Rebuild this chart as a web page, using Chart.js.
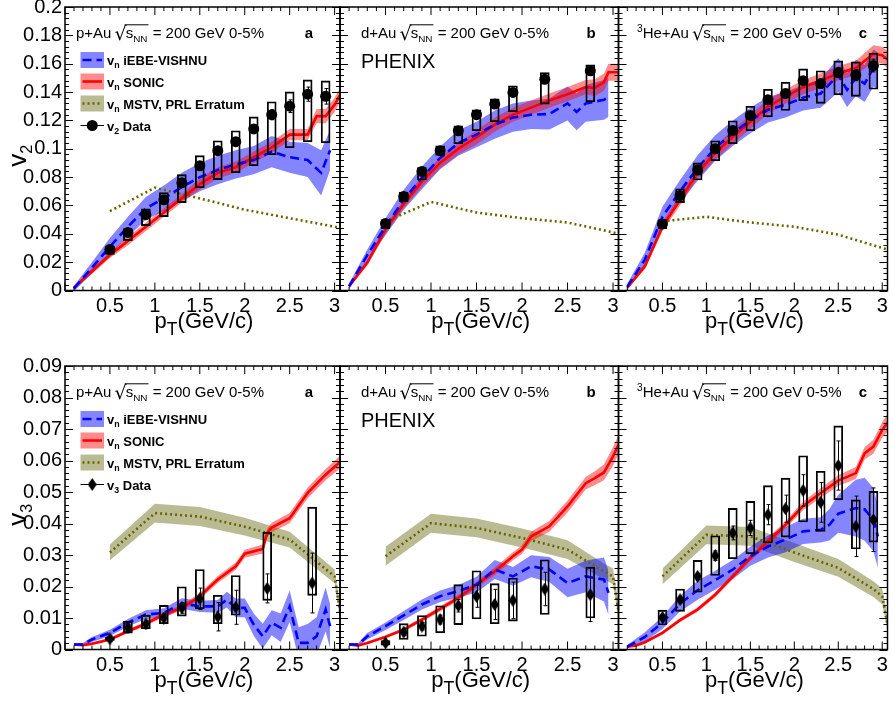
<!DOCTYPE html>
<html>
<head>
<meta charset="utf-8">
<title>v2 / v3 in small systems</title>
<script src="https://cdn.jsdelivr.net/npm/chart.js@4.4.1/dist/chart.umd.min.js"></script>
<style>
  body { margin: 0; background: #ffffff; }
  #page { position: relative; width: 893px; height: 705px; overflow: hidden; background: #fff; }
  #page canvas { position: absolute; left: 0; top: 0; }
</style>
</head>
<body>
<div id="page">
  <canvas id="pAu2" width="893" height="705"></canvas>
  <canvas id="dAu2" width="893" height="705"></canvas>
  <canvas id="he2" width="893" height="705"></canvas>
  <canvas id="pAu3" width="893" height="705"></canvas>
  <canvas id="dAu3" width="893" height="705"></canvas>
  <canvas id="he3" width="893" height="705"></canvas>
</div>
<script>
var FONT = '"Liberation Sans", Arial, Helvetica, sans-serif';

// tick labels
var xTicks = [0.5, 1, 1.5, 2, 2.5, 3];
var v2Ticks = [0, 0.02, 0.04, 0.06, 0.08, 0.1, 0.12, 0.14, 0.16, 0.18, 0.2];
var v3Ticks = [0, 0.01, 0.02, 0.03, 0.04, 0.05, 0.06, 0.07, 0.08, 0.09];

// measured pT bins
var ptFull = [0.5, 0.7, 0.9, 1.1, 1.3, 1.5, 1.7, 1.9, 2.1, 2.3, 2.5, 2.7, 2.9];
var ptWide = [0.5, 0.7, 0.9, 1.1, 1.3, 1.5, 1.7, 1.9, 2.25, 2.75];

// v2 data
var pAuV2 = [0.029, 0.041, 0.0535, 0.064, 0.076, 0.088, 0.0986, 0.105, 0.114, 0.124, 0.130, 0.1385, 0.137];
var pAuV2Stat = [0.001, 0.001, 0.0012, 0.0014, 0.0016, 0.0018, 0.002, 0.0025, 0.003, 0.0035, 0.0045, 0.005, 0.0055];
var pAuV2SysLo = [0.0255, 0.0352, 0.0458, 0.0521, 0.062, 0.0725, 0.0782, 0.0831, 0.088, 0.0958, 0.1007, 0.1049, 0.1042];
var pAuV2SysHi = [0.031, 0.0437, 0.0577, 0.069, 0.0817, 0.0951, 0.1056, 0.1127, 0.1225, 0.1331, 0.1401, 0.1486, 0.1479];

var dAuV2 = [0.0472, 0.0664, 0.084, 0.0986, 0.1127, 0.124, 0.1315, 0.1397, 0.149, 0.155];
var dAuV2Stat = [0.0008, 0.001, 0.0012, 0.0014, 0.0016, 0.0018, 0.002, 0.0024, 0.0025, 0.003];
var dAuV2SysLo = [0.0437, 0.0625, 0.078, 0.0953, 0.1035, 0.1127, 0.119, 0.1261, 0.1315, 0.1331];
var dAuV2SysHi = [0.05, 0.0695, 0.0868, 0.1021, 0.1162, 0.1275, 0.1352, 0.1444, 0.1537, 0.1592];

var heV2 = [0.047, 0.067, 0.085, 0.100, 0.1129, 0.1235, 0.1345, 0.139, 0.148, 0.146, 0.1537, 0.152, 0.1587];
var heV2Stat = [0.0008, 0.001, 0.0012, 0.0014, 0.0016, 0.0018, 0.002, 0.0024, 0.0026, 0.003, 0.0035, 0.004, 0.0045];
var heV2SysLo = [0.0434, 0.062, 0.078, 0.0916, 0.1035, 0.1127, 0.1225, 0.127, 0.134, 0.132, 0.138, 0.137, 0.142];
var heV2SysHi = [0.050, 0.0718, 0.090, 0.1056, 0.1197, 0.130, 0.142, 0.147, 0.1563, 0.155, 0.162, 0.1613, 0.1675];

// v3 data
var pAuV3 = [0.0034, 0.0069, 0.0081, 0.0100, 0.0132, 0.0161, 0.0104, 0.0134, 0.0194, 0.0211];
var pAuV3Stat = [0.0008, 0.001, 0.0012, 0.0013, 0.0017, 0.0034, 0.0045, 0.0054, 0.0046, 0.0095];
var pAuV3SysLo = [0.0029, 0.0052, 0.0066, 0.0082, 0.0106, 0.0129, 0.0082, 0.0109, 0.0156, 0.0172];
var pAuV3SysHi = [0.0039, 0.0090, 0.0109, 0.0140, 0.0199, 0.0254, 0.0172, 0.0235, 0.0372, 0.0452];

var dAuV3 = [0.0021, 0.0055, 0.0074, 0.0095, 0.0139, 0.0169, 0.0143, 0.0156, 0.0192, 0.0174];
var dAuV3Stat = [0.0005, 0.001, 0.0012, 0.0014, 0.002, 0.0035, 0.0048, 0.0058, 0.0053, 0.0085];
var dAuV3SysLo = [0.0014, 0.0032, 0.0042, 0.0053, 0.0079, 0.0097, 0.0082, 0.009, 0.0111, 0.010];
var dAuV3SysHi = [0.0028, 0.0082, 0.0108, 0.0139, 0.0206, 0.025, 0.0209, 0.0227, 0.0285, 0.0262];

var heV3 = [0.0102, 0.0158, 0.0232, 0.0298, 0.037, 0.0386, 0.0428, 0.0447, 0.0505, 0.0467, 0.0584, 0.0391, 0.0412];
var heV3Stat = [0.0005, 0.0008, 0.001, 0.0015, 0.0022, 0.0024, 0.0032, 0.0043, 0.005, 0.0063, 0.0078, 0.0096, 0.0101];
var heV3SysLo = [0.0078, 0.0121, 0.0182, 0.0235, 0.0288, 0.0304, 0.0338, 0.0357, 0.0405, 0.0375, 0.0475, 0.0319, 0.0341];
var heV3SysHi = [0.0125, 0.0192, 0.0283, 0.0361, 0.0448, 0.047, 0.052, 0.0544, 0.0615, 0.0566, 0.071, 0.0475, 0.0502];

// theory: p+Au v2
var iebePtPAu2 = [0.1, 0.3, 0.5, 0.7, 0.9, 1.1, 1.3, 1.5, 1.7, 1.9, 2.1, 2.3, 2.5, 2.7, 2.85, 2.95];
var iebePAu2 = [0.0014, 0.016, 0.031, 0.045, 0.058, 0.065, 0.073, 0.080, 0.085, 0.089, 0.092, 0.098, 0.094, 0.092, 0.083, 0.099];
var iebeErrPAu2 = [0.002, 0.004, 0.006, 0.007, 0.008, 0.009, 0.010, 0.010, 0.010, 0.010, 0.010, 0.011, 0.011, 0.012, 0.016, 0.014];
var sonicPtPAu2 = [0.1, 0.3, 0.5, 0.7, 0.9, 1.1, 1.3, 1.5, 1.7, 1.9, 2.1, 2.3, 2.5, 2.7, 2.8, 2.9, 3.0, 3.06];
var sonicPAu2 = [0.002, 0.0136, 0.025, 0.035, 0.045, 0.055, 0.065, 0.075, 0.083, 0.087, 0.094, 0.101, 0.110, 0.110, 0.123, 0.123, 0.131, 0.138];
var sonicErrPAu2 = [0.001, 0.002, 0.002, 0.003, 0.003, 0.003, 0.003, 0.004, 0.004, 0.004, 0.004, 0.004, 0.004, 0.004, 0.005, 0.005, 0.005, 0.005];
var mstvPtV2 = [0.5, 1.0, 1.5, 2.0, 2.5, 3.0, 3.06];
var mstvPAu2 = [0.056, 0.0725, 0.065, 0.057, 0.051, 0.045, 0.044];

// theory: d+Au v2
var iebePtDAu2 = [0.1, 0.3, 0.5, 0.7, 0.9, 1.1, 1.3, 1.5, 1.7, 1.9, 2.1, 2.3, 2.5, 2.6, 2.7, 2.9, 2.95];
var iebeDAu2 = [0.003, 0.025, 0.045, 0.064, 0.0795, 0.0935, 0.104, 0.110, 0.117, 0.122, 0.124, 0.1245, 0.132, 0.126, 0.132, 0.1345, 0.1365];
var iebeErrDAu2 = [0.002, 0.004, 0.006, 0.007, 0.008, 0.008, 0.009, 0.009, 0.010, 0.010, 0.010, 0.011, 0.012, 0.013, 0.013, 0.014, 0.014];
var sonicPtDAu2 = [0.1, 0.3, 0.5, 0.7, 0.9, 1.1, 1.3, 1.5, 1.7, 1.9, 2.1, 2.3, 2.5, 2.7, 2.8, 2.9, 2.95, 3.06];
var sonicDAu2 = [0.003, 0.0197, 0.043, 0.061, 0.077, 0.090, 0.100, 0.108, 0.117, 0.124, 0.129, 0.134, 0.1385, 0.1435, 0.143, 0.147, 0.154, 0.154];
var sonicErrDAu2 = [0.001, 0.002, 0.003, 0.003, 0.004, 0.004, 0.004, 0.005, 0.005, 0.005, 0.005, 0.005, 0.005, 0.005, 0.006, 0.006, 0.006, 0.006];
var mstvDAu2 = [0.0486, 0.0625, 0.055, 0.051, 0.048, 0.041, 0.040];

// theory: 3He+Au v2
var iebePtHe2 = [0.1, 0.3, 0.5, 0.7, 0.9, 1.1, 1.3, 1.5, 1.7, 1.9, 2.1, 2.3, 2.5, 2.6, 2.7, 2.8, 2.9, 2.95];
var iebeHe2 = [0.0027, 0.0218, 0.052, 0.070, 0.0865, 0.1005, 0.111, 0.120, 0.1275, 0.131, 0.136, 0.139, 0.152, 0.1415, 0.150, 0.146, 0.157, 0.155];
var iebeErrHe2 = [0.002, 0.005, 0.007, 0.008, 0.009, 0.009, 0.009, 0.009, 0.009, 0.009, 0.009, 0.010, 0.012, 0.012, 0.013, 0.013, 0.013, 0.013];
var sonicPtHe2 = [0.1, 0.3, 0.5, 0.7, 0.9, 1.1, 1.3, 1.5, 1.7, 1.9, 2.1, 2.3, 2.5, 2.7, 2.9, 3.0, 3.06];
var sonicHe2 = [0.002, 0.017, 0.045, 0.064, 0.083, 0.097, 0.1085, 0.119, 0.1297, 0.1368, 0.1435, 0.148, 0.1533, 0.157, 0.167, 0.166, 0.163];
var sonicErrHe2 = [0.001, 0.002, 0.003, 0.004, 0.004, 0.005, 0.005, 0.005, 0.005, 0.005, 0.005, 0.005, 0.005, 0.005, 0.006, 0.006, 0.006];
var mstvHe2 = [0.0488, 0.052, 0.048, 0.045, 0.0394, 0.030, 0.029];

// theory: p+Au v3
var iebePtPAu3 = [0.1, 0.2, 0.3, 0.5, 0.7, 0.9, 1.1, 1.3, 1.5, 1.7, 1.8, 1.9, 2.0, 2.1, 2.2, 2.3, 2.4, 2.5, 2.6, 2.7, 2.8, 2.9, 2.95];
var iebePAu3 = [0.0016, 0.0016, 0.0032, 0.0053, 0.0085, 0.0111, 0.0116, 0.0146, 0.0137, 0.0137, 0.0158, 0.0132, 0.0132, 0.0079, 0.0042, 0.0085, 0.0069, 0.0137, 0.0021, 0.0021, 0.0042, 0.0127, 0.0074];
var iebeErrPAu3 = [0.0005, 0.0005, 0.0008, 0.001, 0.0012, 0.0014, 0.0015, 0.0017, 0.0018, 0.002, 0.0025, 0.003, 0.003, 0.0035, 0.004, 0.004, 0.0045, 0.005, 0.005, 0.006, 0.006, 0.007, 0.007];
var sonicPtPAu3 = [0.1, 0.2, 0.3, 0.5, 0.7, 0.9, 1.1, 1.3, 1.5, 1.7, 1.9, 2.0, 2.2, 2.25, 2.3, 2.5, 2.7, 2.9, 3.06];
var sonicPAu3 = [0.0016, 0.0014, 0.0018, 0.0032, 0.0058, 0.0082, 0.0111, 0.0132, 0.0169, 0.0222, 0.0264, 0.0304, 0.0319, 0.037, 0.0387, 0.0417, 0.0497, 0.0555, 0.0595];
var sonicErrPAu3 = [0.0004, 0.0004, 0.0004, 0.0005, 0.0006, 0.0007, 0.0008, 0.0009, 0.001, 0.0011, 0.0012, 0.0013, 0.0014, 0.0014, 0.0015, 0.0016, 0.0017, 0.0018, 0.002];
var mstvPtPAu3 = [0.5, 1.0, 1.5, 2.0, 2.5, 3.0, 3.06];
var mstvPAu3 = [0.0308, 0.0433, 0.0422, 0.039, 0.0349, 0.0232, 0.012];
var mstvErrPAu3 = [0.0025, 0.003, 0.003, 0.0028, 0.0025, 0.0022, 0.002];

// theory: d+Au v3
var iebePtDAu3 = [0.1, 0.2, 0.3, 0.5, 0.7, 0.9, 1.1, 1.3, 1.5, 1.7, 1.9, 2.1, 2.3, 2.5, 2.7, 2.8, 2.9, 2.95];
var iebeDAu3 = [0.0016, 0.0016, 0.0042, 0.0074, 0.0108, 0.0143, 0.0169, 0.0185, 0.0206, 0.0254, 0.0232, 0.0264, 0.0254, 0.0211, 0.0232, 0.0227, 0.0222, 0.018];
var iebeErrDAu3 = [0.0005, 0.0005, 0.001, 0.0012, 0.0014, 0.0016, 0.0018, 0.002, 0.0025, 0.003, 0.003, 0.0035, 0.004, 0.0045, 0.005, 0.006, 0.007, 0.007];
var sonicPtDAu3 = [0.1, 0.2, 0.3, 0.5, 0.7, 0.9, 1.1, 1.3, 1.5, 1.7, 1.9, 2.0, 2.1, 2.2, 2.3, 2.5, 2.7, 2.8, 2.9, 3.0, 3.06];
var sonicDAu3 = [0.0016, 0.0013, 0.0021, 0.004, 0.0063, 0.0095, 0.0129, 0.0164, 0.0206, 0.0248, 0.0296, 0.0317, 0.0359, 0.0375, 0.0391, 0.0454, 0.0528, 0.0544, 0.0562, 0.0613, 0.065];
var sonicErrDAu3 = [0.0004, 0.0004, 0.0004, 0.0005, 0.0006, 0.0007, 0.0008, 0.0009, 0.001, 0.0012, 0.0013, 0.0014, 0.0015, 0.0016, 0.0017, 0.0019, 0.002, 0.0022, 0.0025, 0.003, 0.003];
var mstvPtV3 = [0.5, 1.0, 1.5, 2.0, 2.5, 2.9, 3.0, 3.06];
var mstvDAu3 = [0.0296, 0.0401, 0.0386, 0.0354, 0.0317, 0.0248, 0.0232, 0.012];
var mstvErrDAu3 = [0.003, 0.003, 0.003, 0.003, 0.003, 0.0025, 0.0025, 0.002];

// theory: 3He+Au v3
var iebePtHe3 = [0.1, 0.3, 0.5, 0.7, 0.9, 1.1, 1.3, 1.5, 1.7, 1.9, 2.1, 2.3, 2.4, 2.5, 2.7, 2.8, 2.9, 2.95];
var iebeHe3 = [0.0009, 0.004, 0.0085, 0.0146, 0.0188, 0.022, 0.0254, 0.0296, 0.0327, 0.0349, 0.0375, 0.038, 0.0396, 0.0431, 0.0449, 0.0445, 0.0412, 0.0359];
var iebeErrHe3 = [0.0005, 0.0015, 0.002, 0.0025, 0.003, 0.003, 0.003, 0.003, 0.0035, 0.004, 0.004, 0.004, 0.005, 0.006, 0.009, 0.01, 0.01, 0.01];
var sonicPtHe3 = [0.1, 0.2, 0.3, 0.5, 0.7, 0.9, 1.1, 1.3, 1.5, 1.7, 1.9, 2.1, 2.3, 2.5, 2.7, 2.8, 2.9, 3.0, 3.06];
var sonicHe3 = [0.0009, 0.0013, 0.0023, 0.0053, 0.0093, 0.0127, 0.0174, 0.0232, 0.0291, 0.0343, 0.0396, 0.0456, 0.0497, 0.0536, 0.056, 0.0623, 0.0644, 0.0697, 0.072];
var sonicErrHe3 = [0.0003, 0.0003, 0.0004, 0.0005, 0.0006, 0.0007, 0.0008, 0.0009, 0.001, 0.0011, 0.0012, 0.0014, 0.0015, 0.0017, 0.0019, 0.002, 0.0022, 0.0025, 0.0027];
var mstvHe3 = [0.0232, 0.0364, 0.0359, 0.0308, 0.0259, 0.0192, 0.0169, 0.008];
var mstvErrHe3 = [0.0025, 0.003, 0.003, 0.003, 0.0028, 0.0025, 0.0025, 0.002];

// styles
var BLUE = '#0000ff', RED = '#ff0000', OLIVE = '#666600';
var BLUE_BAND = 'rgba(0,0,255,0.48)', RED_BAND = 'rgba(255,0,0,0.45)', OLIVE_BAND = 'rgba(120,120,40,0.5)';
var BLUE_DASH = [9, 5], OLIVE_DOT = [2, 3];

function diamondImage() {
    var c = document.createElement('canvas');
    c.width = 9; c.height = 13;
    var g = c.getContext('2d');
    g.fillStyle = '#000';
    g.beginPath();
    g.moveTo(4.5, 0); g.lineTo(9, 6.5); g.lineTo(4.5, 13); g.lineTo(0, 6.5);
    g.closePath(); g.fill();
    return c;
}
var DIAMOND = diamondImage();

var TOP = {top: 7, bottom: 290.5};
var BOT = {top: 366, bottom: 649.5};

var panels = [
    {canvas: 'pAu2', left: 65, right: 340, row: TOP, yMax: 0.2, yTicks: v2Ticks, n: '2', first: true,
     head: [{t: 'p+Au '}], headX: 76, letter: 'a', letterX: 309,
     meas: [ptFull, pAuV2, pAuV2Stat, pAuV2SysLo, pAuV2SysHi],
     iebe: [iebePtPAu2, iebePAu2, iebeErrPAu2], sonic: [sonicPtPAu2, sonicPAu2, sonicErrPAu2], mstv: [mstvPtV2, mstvPAu2, null]},
    {canvas: 'dAu2', left: 340, right: 618.5, row: TOP, yMax: 0.2, yTicks: v2Ticks, n: '2', phenix: true,
     head: [{t: 'd+Au '}], headX: 361, letter: 'b', letterX: 591,
     meas: [ptWide, dAuV2, dAuV2Stat, dAuV2SysLo, dAuV2SysHi],
     iebe: [iebePtDAu2, iebeDAu2, iebeErrDAu2], sonic: [sonicPtDAu2, sonicDAu2, sonicErrDAu2], mstv: [mstvPtV2, mstvDAu2, null]},
    {canvas: 'he2', left: 618.5, right: 892, row: TOP, yMax: 0.2, yTicks: v2Ticks, n: '2',
     head: [{t: '3', sup: true}, {t: 'He+Au '}], headX: 637, letter: 'c', letterX: 863,
     meas: [ptFull, heV2, heV2Stat, heV2SysLo, heV2SysHi],
     iebe: [iebePtHe2, iebeHe2, iebeErrHe2], sonic: [sonicPtHe2, sonicHe2, sonicErrHe2], mstv: [mstvPtV2, mstvHe2, null]},
    {canvas: 'pAu3', left: 65, right: 340, row: BOT, yMax: 0.09, yTicks: v3Ticks, n: '3', first: true,
     head: [{t: 'p+Au '}], headX: 76, letter: 'a', letterX: 309,
     meas: [ptWide, pAuV3, pAuV3Stat, pAuV3SysLo, pAuV3SysHi],
     iebe: [iebePtPAu3, iebePAu3, iebeErrPAu3], sonic: [sonicPtPAu3, sonicPAu3, sonicErrPAu3], mstv: [mstvPtPAu3, mstvPAu3, mstvErrPAu3]},
    {canvas: 'dAu3', left: 340, right: 618.5, row: BOT, yMax: 0.09, yTicks: v3Ticks, n: '3', phenix: true,
     head: [{t: 'd+Au '}], headX: 361, letter: 'b', letterX: 591,
     meas: [ptWide, dAuV3, dAuV3Stat, dAuV3SysLo, dAuV3SysHi],
     iebe: [iebePtDAu3, iebeDAu3, iebeErrDAu3], sonic: [sonicPtDAu3, sonicDAu3, sonicErrDAu3], mstv: [mstvPtV3, mstvDAu3, mstvErrDAu3]},
    {canvas: 'he3', left: 618.5, right: 892, row: BOT, yMax: 0.09, yTicks: v3Ticks, n: '3',
     head: [{t: '3', sup: true}, {t: 'He+Au '}], headX: 637, letter: 'c', letterX: 863,
     meas: [ptFull, heV3, heV3Stat, heV3SysLo, heV3SysHi],
     iebe: [iebePtHe3, iebeHe3, iebeErrHe3], sonic: [sonicPtHe3, sonicHe3, sonicErrHe3], mstv: [mstvPtV3, mstvHe3, mstvErrHe3]}
];

function pts(xs, ys, k, hs) {
    return xs.map(function (x, i) { return {x: x, y: ys[i] + (hs ? k * hs[i] : 0)}; });
}

function curve(c, color, dash, order) {
    return {type: 'line', data: pts(c[0], c[1]), borderColor: color, borderWidth: 2.6, borderDash: dash,
        pointRadius: 0, tension: 0, fill: false, order: order};
}

function addBand(ds, c, color, order) {
    var lowIndex = ds.length;
    ds.push({type: 'line', data: pts(c[0], c[1], -1, c[2]), borderWidth: 0, borderColor: 'rgba(0,0,0,0)',
        pointRadius: 0, tension: 0, fill: false, order: order});
    ds.push({type: 'line', data: pts(c[0], c[1], 1, c[2]), borderWidth: 0, borderColor: 'rgba(0,0,0,0)',
        backgroundColor: color, pointRadius: 0, tension: 0, fill: lowIndex, order: order});
}

function makeDatasets(p) {
    var m = p.meas;
    var ds = [];
    ds.push({type: 'line', data: pts(m[0], m[1]), showLine: false, order: 0,
        pointStyle: p.n === '2' ? 'circle' : DIAMOND, pointRadius: 5.5,
        pointBackgroundColor: '#000', pointBorderColor: '#000', pointBorderWidth: 0});
    ds.push({type: 'bar', order: 1, barThickness: 9, borderWidth: 1.2, borderColor: '#000',
        backgroundColor: 'rgba(0,0,0,0)', borderSkipped: false,
        data: m[0].map(function (x, i) { return {x: x, y: [m[3][i], m[4][i]]}; })});
    ds.push(curve(p.iebe, BLUE, BLUE_DASH, 2));
    ds.push(curve(p.sonic, RED, [], 3));
    ds.push(curve(p.mstv, OLIVE, OLIVE_DOT, 4));
    addBand(ds, p.sonic, RED_BAND, 5);
    addBand(ds, p.iebe, BLUE_BAND, 6);
    if (p.mstv[2]) addBand(ds, p.mstv, OLIVE_BAND, 7);
    return ds;
}

// text with sub / superscripts, returns end x
function rich(ctx, x, y, parts, size, weight) {
    parts.forEach(function (s) {
        var fs = s.sub || s.sup ? size * (s.scale || 0.68) : size;
        ctx.font = (weight || '') + ' ' + fs + 'px ' + FONT;
        var dy = s.sub ? size * (s.drop || 0.25) : (s.sup ? -size * 0.4 : 0);
        ctx.fillText(s.t, x, y + dy);
        x += ctx.measureText(s.t).width;
    });
    return x;
}

function richWidth(ctx, parts, size, weight) {
    var w = 0;
    parts.forEach(function (s) {
        var fs = s.sub || s.sup ? size * (s.scale || 0.68) : size;
        ctx.font = (weight || '') + ' ' + fs + 'px ' + FONT;
        w += ctx.measureText(s.t).width;
    });
    return w;
}

function drawHeader(ctx, p, y) {
    var x = rich(ctx, p.headX, y, p.head, 15);
    ctx.font = '19px "DejaVu Sans", ' + FONT;
    ctx.fillText('\u221A', x - 1, y + 2);
    x += ctx.measureText('\u221A').width - 2;
    var x0 = x;
    x = rich(ctx, x, y, [{t: 's'}, {t: 'NN', sub: true, scale: 0.66, drop: 0.22}], 15);
    ctx.lineWidth = 1;
    ctx.beginPath();
    ctx.moveTo(x0 - 1, y - 13.5); ctx.lineTo(x + 1, y - 13.5);
    ctx.stroke();
    rich(ctx, x + 1, y, [{t: ' = 200 GeV 0-5%'}], 15);
    ctx.font = 'bold 15px ' + FONT;
    ctx.textAlign = 'center';
    ctx.fillText(p.letter, p.letterX, y);
    ctx.textAlign = 'left';
}

function drawLegend(ctx, p, a) {
    var x0 = a.left + 15.5, x1 = a.left + 39, tx = a.left + 42;
    var ys = [a.top + 53, a.top + 74.5, a.top + 96.5, a.top + 118.5];
    var sets = [[BLUE_BAND, BLUE, BLUE_DASH, 'iEBE-VISHNU'], [RED_BAND, RED, [], 'SONIC'],
        [OLIVE_BAND, OLIVE, OLIVE_DOT, 'MSTV, PRL Erratum']];
    sets.forEach(function (s, i) {
        var y = ys[i];
        ctx.fillStyle = s[0];
        ctx.fillRect(x0, y - 8, x1 - x0, 16);
        ctx.strokeStyle = s[1];
        ctx.lineWidth = 2.6;
        ctx.setLineDash(s[2]);
        ctx.beginPath(); ctx.moveTo(x0 + 2, y); ctx.lineTo(x1 - 2, y); ctx.stroke();
        ctx.setLineDash([]);
        ctx.fillStyle = '#000';
        rich(ctx, tx, y + 5, [{t: 'v'}, {t: 'n', sub: true}, {t: ' ' + s[3]}], 13, 'bold');
    });
    var y = ys[3];
    ctx.strokeStyle = '#000'; ctx.lineWidth = 1;
    ctx.beginPath(); ctx.moveTo(x0, y); ctx.lineTo(x1, y); ctx.stroke();
    var cx = (x0 + x1) / 2;
    ctx.fillStyle = '#000';
    if (p.n === '2') {
        ctx.beginPath(); ctx.arc(cx, y, 5.5, 0, Math.PI * 2); ctx.fill();
    } else {
        ctx.drawImage(DIAMOND, cx - 4.5, y - 6.5);
    }
    rich(ctx, tx, y + 5, [{t: 'v'}, {t: p.n, sub: true}, {t: ' Data'}], 13, 'bold');
}

function decoPlugin(p) {
    return {
        id: 'deco',
        afterDatasetsDraw: function (chart) {
            var ctx = chart.ctx, a = chart.chartArea, xs = chart.scales.x, ys = chart.scales.y;
            var m = p.meas;
            ctx.save();
            // statistical error bars
            ctx.strokeStyle = '#000';
            ctx.lineWidth = 1;
            ctx.beginPath();
            m[0].forEach(function (x, i) {
                var px = Math.round(xs.getPixelForValue(x)) + 0.5;
                var y1 = ys.getPixelForValue(m[1][i] - m[2][i]);
                var y2 = ys.getPixelForValue(m[1][i] + m[2][i]);
                ctx.moveTo(px, y1); ctx.lineTo(px, y2);
                ctx.moveTo(px - 2, y1); ctx.lineTo(px + 2, y1);
                ctx.moveTo(px - 2, y2); ctx.lineTo(px + 2, y2);
            });
            ctx.stroke();

            // inward ticks on all four sides
            ctx.beginPath();
            var k, v, pos, len;
            for (k = 0; k <= 30; k++) {
                pos = xs.getPixelForValue(k / 10);
                len = k % 5 === 0 ? 8 : 4;
                ctx.moveTo(pos, a.bottom); ctx.lineTo(pos, a.bottom - len);
                ctx.moveTo(pos, a.top); ctx.lineTo(pos, a.top + len);
            }
            var step = p.yTicks[1] - p.yTicks[0];
            var nMinor = (p.yTicks.length - 1) * 5;
            for (k = 0; k <= nMinor; k++) {
                v = k * step / 5;
                pos = Math.round(ys.getPixelForValue(v)) + 0.5;
                len = k % 5 === 0 ? 8 : 4;
                ctx.moveTo(a.left, pos); ctx.lineTo(a.left + len, pos);
                ctx.moveTo(a.right, pos); ctx.lineTo(a.right - len, pos);
            }
            ctx.stroke();
            ctx.lineWidth = 1.5;
            ctx.strokeRect(a.left, a.top, a.right - a.left, a.bottom - a.top);

            // texts
            ctx.fillStyle = '#000';
            ctx.strokeStyle = '#000';
            ctx.textAlign = 'left';
            ctx.textBaseline = 'alphabetic';
            drawHeader(ctx, p, a.top + 31.3);
            if (p.phenix) {
                ctx.font = '20px ' + FONT;
                ctx.fillText('PHENIX', a.left + 21, a.top + 60.5);
            }
            if (p.first) drawLegend(ctx, p, a);

            // axis titles
            var title = [{t: 'p'}, {t: 'T', sub: true, scale: 0.8, drop: 0.36}, {t: '(GeV/c)'}];
            var w = richWidth(ctx, title, 22);
            rich(ctx, (a.left + a.right) / 2 + 1.5 - w / 2, a.bottom + 37, title, 22);
            if (p.first) {
                var yt = [{t: 'v'}, {t: p.n, sub: true, scale: 0.62, drop: 0.22}];
                ctx.save();
                ctx.translate(26, (a.top + a.bottom) / 2 + 7);
                ctx.rotate(-Math.PI / 2);
                var wy = richWidth(ctx, yt, 26);
                rich(ctx, -wy / 2, 0, yt, 26);
                ctx.restore();
            }
            ctx.restore();
        }
    };
}

panels.forEach(function (p) {
    var yW = p.first ? p.left : 0;
    var xH = 30;
    new Chart(document.getElementById(p.canvas), {
        type: 'line',
        data: {datasets: makeDatasets(p)},
        options: {
            responsive: false,
            animation: false,
            events: [],
            layout: {padding: {left: p.left - yW, top: p.row.top, right: 893 - p.right, bottom: 705 - p.row.bottom - xH}},
            plugins: {legend: {display: false}, tooltip: {enabled: false}},
            scales: {
                x: {
                    type: 'linear', min: 0, max: 3.06, offset: false,
                    grid: {display: false, drawTicks: false, offset: false},
                    border: {display: false},
                    afterBuildTicks: function (s) { s.ticks = xTicks.map(function (v) { return {value: v}; }); },
                    afterFit: function (s) { s.height = xH; s.paddingLeft = 0; s.paddingRight = 0; },
                    ticks: {color: '#000', font: {family: FONT, size: 20}, padding: 4, maxRotation: 0, autoSkip: false,
                        callback: function (v) { return String(v); }}
                },
                y: {
                    type: 'linear', min: 0, max: p.yMax,
                    grid: {display: false, drawTicks: false},
                    border: {display: false},
                    afterBuildTicks: function (s) { s.ticks = p.yTicks.map(function (v) { return {value: v}; }); },
                    afterFit: function (s) { s.width = yW; s.paddingTop = 0; s.paddingBottom = 0; },
                    ticks: {display: !!p.first, color: '#000', font: {family: FONT, size: 20}, padding: 3, autoSkip: false,
                        callback: function (v) { return String(v); }}
                }
            }
        },
        plugins: [decoPlugin(p)]
    });
});
</script>
</body>
</html>
